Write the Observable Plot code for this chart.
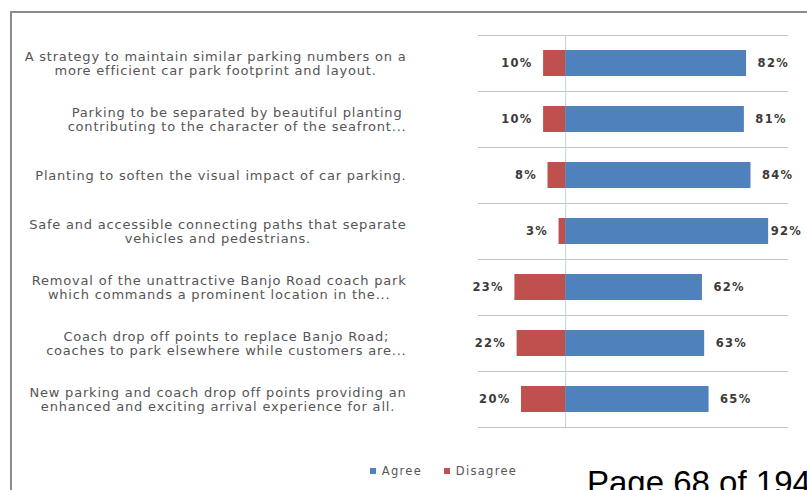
<!DOCTYPE html>
<html>
<head>
<meta charset="utf-8">
<script src="https://cdn.jsdelivr.net/npm/d3@7"></script>
<script src="https://cdn.jsdelivr.net/npm/@observablehq/plot@0.6"></script>
<style>
  html, body { margin: 0; padding: 0; background: #fff; width: 807px; height: 490px; overflow: hidden; }
  #wrap { position: relative; width: 807px; height: 490px; }
  #frame { position: absolute; left: 10px; top: 11px; width: 805px; height: 490px;
           border-left: 2px solid #8a8a8a; border-top: 2px solid #8a8a8a; box-sizing: border-box; }
  #chart { position: absolute; left: 0; top: 0; }
  #legend { position: absolute; left: 370px; top: 454px; letter-spacing: 1.3px; }
  #legend span { margin-right: 22px !important; }
  #page { position: absolute; left: 587px; top: 466px; font-family: "Liberation Sans", Arial, sans-serif;
          font-size: 33px; color: #000; white-space: nowrap; line-height: 1; }
</style>
</head>
<body>
<div id="wrap">
  <div id="frame"></div>
  <div id="chart"></div>
  <div id="legend"></div>
  <div id="page">Page 68 of 194</div>
</div>
<script>
const categories = [
  "A strategy to maintain similar parking numbers on a\nmore efficient car park footprint and layout.",
  "Parking to be separated by beautiful planting\ncontributing to the character of the seafront...",
  "Planting to soften the visual impact of car parking.",
  "Safe and accessible connecting paths that separate\nvehicles and pedestrians.",
  "Removal of the unattractive Banjo Road coach park\nwhich commands a prominent location in the...",
  "Coach drop off points to replace Banjo Road;\ncoaches to park elsewhere while customers are...",
  "New parking and coach drop off points providing an\nenhanced and exciting arrival experience for all."
];
const agree = [82, 81, 84, 92, 62, 63, 65];
const disagree = [10, 10, 8, 3, 23, 22, 20];
const seriesNames = ["Agree", "Disagree"];
const seriesColors = ["#4F81BD", "#C0504D"];

const rows = [];
categories.forEach((c, i) => {
  rows.push({cat: c, series: seriesNames[0], x1: 0, x2: agree[i], value: agree[i]});
  rows.push({cat: c, series: seriesNames[1], x1: -disagree[i], x2: 0, value: disagree[i]});
});

const W = 807, H = 490, mL = 478, mR = 19, mT = 35, mB = 63;
const xDomain = [-39.5, 101];
const step = (H - mT - mB) / categories.length;
const labelSpacing = 0.8;  // px letter spacing of category labels
const valueSpacing = 1.3;  // px letter spacing of value labels
const labelSize = 13, valueSize = 11.5;

const ctx = document.createElement("canvas").getContext("2d");
ctx.font = labelSize + 'px "DejaVu Sans"';
const measure = l => ctx.measureText(l).width + labelSpacing * l.length;
const blockW = categories.map(c => d3.max(c.split("\n"), measure));

// value label placement: outside end, pulled in when it would leave the picture (as Excel does)
ctx.font = 'bold ' + valueSize + 'px "DejaVu Sans"';
const xPx = d3.scaleLinear(xDomain, [mL, W - mR]);
const agreeRows = rows.filter(d => d.series === "Agree");
const fits = d => xPx(d.x2) + 11 + ctx.measureText(d.value + "%").width + valueSpacing * 3 <= W - 6;

const labelMarks = categories.map((c, i) =>
  Plot.text([c], {
    frameAnchor: "left", y: d => d, text: d => d,
    textAnchor: "middle", dx: -72 - blockW[i] / 2,
    fontFamily: "DejaVu Sans", fontSize: labelSize, lineHeight: 1.1, fill: "#555555"
  })
);

const valueStyle = {fontFamily: "DejaVu Sans", fontWeight: "bold", fontSize: valueSize, fill: "#3a3a3a"};

const plot = Plot.plot({
  width: W, height: H,
  marginLeft: mL, marginRight: mR, marginTop: mT, marginBottom: mB,
  style: {background: "transparent", overflow: "visible"},
  x: {domain: xDomain, axis: null},
  y: {domain: categories, axis: null, padding: 0},
  color: {domain: seriesNames, range: seriesColors},
  marks: [
    Plot.ruleY(categories, {y: d => d, dy: -step / 2, stroke: "#c4c4c4", strokeWidth: 1.2}),
    Plot.ruleY([categories[categories.length - 1]], {y: d => d, dy: step / 2, stroke: "#c4c4c4", strokeWidth: 1.2}),
    Plot.ruleX([0], {stroke: "#bcd6da", strokeWidth: 1}),
    Plot.barX(rows, {x1: "x1", x2: "x2", y: "cat", fill: "series", insetTop: 15, insetBottom: 15}),
    Plot.text(agreeRows.filter(fits), {
      x: "x2", y: "cat", text: d => d.value + "%", textAnchor: "start", dx: 11, ...valueStyle
    }),
    Plot.text(agreeRows.filter(d => !fits(d)), {
      x: "x2", y: "cat", text: d => d.value + "%", textAnchor: "start", dx: 2, ...valueStyle
    }),
    Plot.text(rows.filter(d => d.series === "Disagree"), {
      x: "x1", y: "cat", text: d => d.value + "%", textAnchor: "end", dx: -11, ...valueStyle
    }),
    ...labelMarks
  ]
});
document.getElementById("chart").appendChild(plot);

plot.querySelectorAll("text").forEach(t => {
  const isValue = /%$/.test(t.textContent.trim());
  const s = (isValue ? valueSpacing : labelSpacing) + "px";
  t.setAttribute("letter-spacing", s);
  t.style.letterSpacing = s;
});

const leg = plot.legend("color", {
  swatchSize: 6, swatchWidth: 6, swatchHeight: 6,
  style: {fontFamily: "DejaVu Sans", fontSize: "11.5px", color: "#555", background: "transparent"}
});
document.getElementById("legend").appendChild(leg);
</script>
</body>
</html>
